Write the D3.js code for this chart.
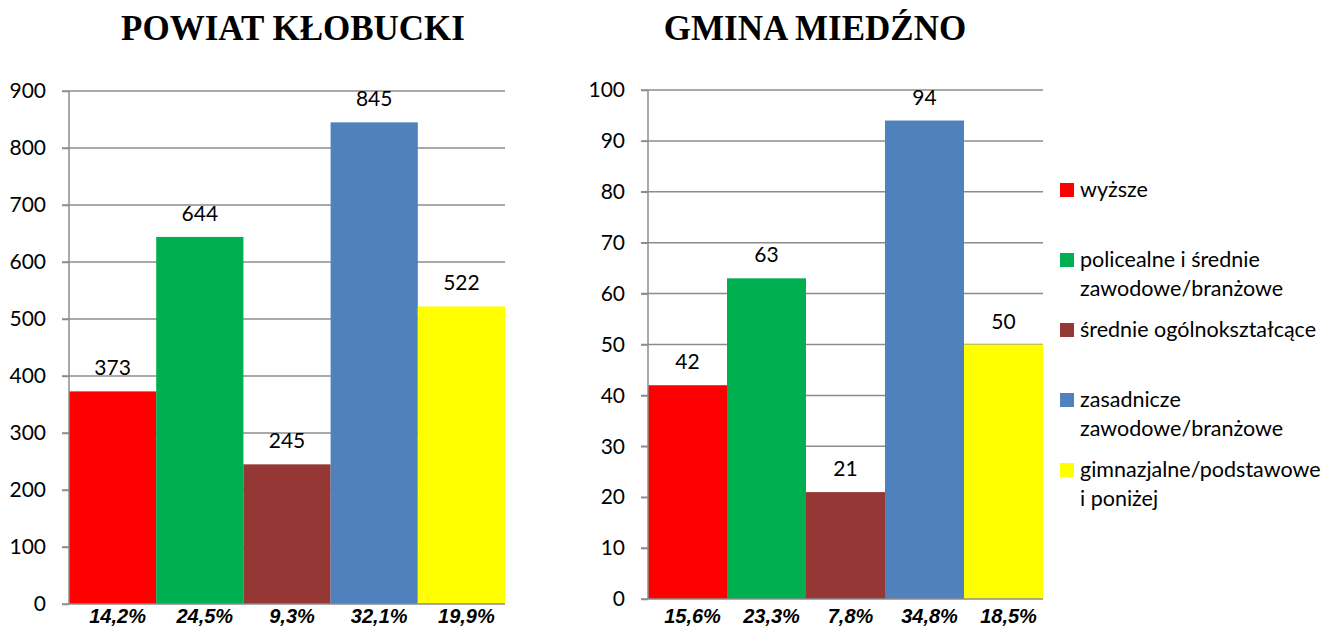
<!DOCTYPE html>
<html>
<head>
<meta charset="utf-8">
<script src="https://cdn.jsdelivr.net/npm/d3@7"></script>
<style>
  body { margin: 0; background: #fff; }
  svg text { font-family: Lato, "Open Sans", sans-serif; }
</style>
</head>
<body>
<script>
// Data
var categories = ['wyższe', 'policealne i średnie zawodowe/branżowe', 'średnie ogólnokształcące',
                  'zasadnicze zawodowe/branżowe', 'gimnazjalne/podstawowe i poniżej'];
var legendLines = [['wyższe'], ['policealne i średnie', 'zawodowe/branżowe'], ['średnie ogólnokształcące'],
                   ['zasadnicze', 'zawodowe/branżowe'], ['gimnazjalne/podstawowe', 'i poniżej']];
var colors = ['#ff0000', '#00b050', '#953735', '#4f81bd', '#ffff00'];

var powiatValues = [373, 644, 245, 845, 522];
var powiatPercent = ['14,2%', '24,5%', '9,3%', '32,1%', '19,9%'];
var powiatTicks = [0, 100, 200, 300, 400, 500, 600, 700, 800, 900];

var gminaValues = [42, 63, 21, 94, 50];
var gminaPercent = ['15,6%', '23,3%', '7,8%', '34,8%', '18,5%'];
var gminaTicks = [0, 10, 20, 30, 40, 50, 60, 70, 80, 90, 100];

var W = 1333, H = 627;
var svg = d3.select('body').append('svg').attr('width', W).attr('height', H);

// one bar chart panel
function panel(opts) {
  var x = d3.scaleBand().domain(d3.range(opts.values.length))
            .range([opts.left, opts.right]).padding(0);
  var y = d3.scaleLinear().domain([0, opts.max]).range([opts.bottom, opts.top]);

  var g = svg.append('g');

  // gridlines
  g.selectAll('line.grid')
    .data(opts.ticks.filter(function(d) { return d > 0; }))
    .enter().append('line')
    .attr('x1', opts.left - 7).attr('x2', opts.right)
    .attr('y1', function(d) { return y(d); }).attr('y2', function(d) { return y(d); })
    .attr('stroke', '#8c8c8c').attr('stroke-width', 1.5);

  // bars
  g.selectAll('rect')
    .data(opts.values)
    .enter().append('rect')
    .attr('x', function(d, i) { return x(i); })
    .attr('y', function(d) { return y(d); })
    .attr('width', x.bandwidth())
    .attr('height', function(d) { return y(0) - y(d); })
    .attr('fill', function(d, i) { return colors[i]; });

  // y axis
  var axis = d3.axisLeft(y).tickValues(opts.ticks).tickSize(7).tickPadding(16);
  var ax = g.append('g').attr('transform', 'translate(' + opts.left + ',0)').call(axis);
  ax.select('.domain').attr('stroke', '#8c8c8c').attr('stroke-width', 1.5)
    .attr('d', 'M0,' + opts.top + 'V' + opts.bottom);
  ax.selectAll('.tick line').attr('stroke', '#8c8c8c').attr('stroke-width', 1.5);
  ax.selectAll('.tick text').attr('fill', '#000').style('font-size', '21px')
    .style('font-family', 'Lato, sans-serif');

  // baseline
  g.append('line')
    .attr('x1', opts.left - 7).attr('x2', opts.right)
    .attr('y1', y(0)).attr('y2', y(0))
    .attr('stroke', '#8c8c8c').attr('stroke-width', 1.5);

  // value labels
  g.selectAll('text.val')
    .data(opts.values)
    .enter().append('text')
    .attr('class', 'val')
    .attr('x', function(d, i) { return x(i) + x.bandwidth() / 2; })
    .attr('y', function(d) { return y(d) - 16; })
    .attr('text-anchor', 'middle')
    .style('font-size', '21px')
    .text(function(d) { return d; });

  // percentage labels
  g.selectAll('text.pct')
    .data(opts.percent)
    .enter().append('text')
    .attr('class', 'pct')
    .attr('x', function(d, i) { return x(i) + x.bandwidth() / 2 + 5; })
    .attr('y', 623)
    .attr('text-anchor', 'middle')
    .style('font-family', '"Liberation Sans", Arial, sans-serif')
    .style('font-size', '20px')
    .style('font-weight', 'bold')
    .style('font-style', 'italic')
    .text(function(d) { return d; });

  // title
  svg.append('text')
    .attr('x', opts.titleX).attr('y', 40)
    .attr('text-anchor', 'middle')
    .style('font-family', '"Liberation Serif", "Times New Roman", serif')
    .style('font-size', '35px')
    .style('font-weight', 'bold')
    .text(opts.title);
}

panel({ values: powiatValues, percent: powiatPercent, ticks: powiatTicks, max: 900,
        left: 69, right: 505, top: 91, bottom: 604, title: 'POWIAT KŁOBUCKI', titleX: 293 });
panel({ values: gminaValues, percent: gminaPercent, ticks: gminaTicks, max: 100,
        left: 648, right: 1043, top: 90, bottom: 599, title: 'GMINA MIEDŹNO', titleX: 815 });

// legend
var legendY = [190, 260, 330, 400, 470];
var lg = svg.append('g');
legendLines.forEach(function(lines, i) {
  lg.append('rect')
    .attr('x', 1060).attr('y', legendY[i] - 7)
    .attr('width', 14).attr('height', 14)
    .attr('fill', colors[i]);
  var t = lg.append('text')
    .attr('x', 1080).attr('y', legendY[i] + 7)
    .style('font-size', '21.5px');
  lines.forEach(function(line, j) {
    t.append('tspan').attr('x', 1080).attr('dy', j === 0 ? 0 : 28.5).text(line);
  });
});
</script>
</body>
</html>
